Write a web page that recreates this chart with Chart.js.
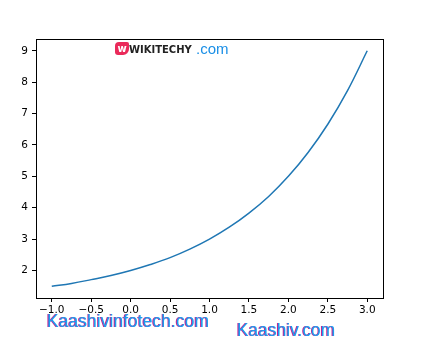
<!DOCTYPE html>
<html>
<head>
<meta charset="utf-8">
<script src="https://cdn.jsdelivr.net/npm/chart.js@4/dist/chart.umd.min.js"></script>
<style>
  html, body { margin: 0; padding: 0; background: #fff; }
  #wrap { position: relative; width: 431px; height: 359px; }
  .mark { position: absolute; white-space: nowrap; transform-origin: 0 0; }
  .kaashiv { font-family: "Liberation Sans", Arial, sans-serif; color: #1a9ef0; text-shadow: -1px 0 #c8208e; }
</style>
</head>
<body>
<div id="wrap">
  <canvas id="chart" width="431" height="359"></canvas>
  <div class="mark" style="left:115px;top:42px;width:14px;height:13px;background:#ea2a5a;border-radius:4px 2px 6px 3px;color:#fff;font:bold 10px 'DejaVu Sans';line-height:13px;text-align:center">w</div>
  <div class="mark" style="left:129px;top:44px;font:bold 10px 'DejaVu Sans';color:#222">WIKITECHY</div>
  <div class="mark" style="left:196px;top:40px;font:15px 'Liberation Sans';color:#1a8fe6">.com</div>
  <div class="mark kaashiv" style="left:47px;top:310px;font-size:19px;transform:scaleX(0.925)">Kaashivinfotech.com</div>
  <div class="mark kaashiv" style="left:237px;top:319px;font-size:19px;transform:scaleX(0.915)">Kaashiv.com</div>
</div>
<script>
// curve
const xValues = [-1, -0.75, -0.5, -0.25, 0, 0.25, 0.5, 0.75, 1, 1.25, 1.5, 1.75, 2, 2.25, 2.5, 2.75, 3];
const yValues = [1.5, 1.59, 1.71, 1.84, 2, 2.19, 2.41, 2.68, 3, 3.38, 3.83, 4.36, 5, 5.76, 6.66, 7.73, 9];
const xTicks = [-1.0, -0.5, 0.0, 0.5, 1.0, 1.5, 2.0, 2.5, 3.0];
const yTicks = [2, 3, 4, 5, 6, 7, 8, 9];

const frame = {
  id: 'frame',
  afterDraw(chart) {
    const { ctx, chartArea: a } = chart;
    ctx.save();
    ctx.strokeStyle = '#000';
    ctx.lineWidth = 1;
    ctx.strokeRect(Math.round(a.left) + 0.5, Math.round(a.top) + 0.5, Math.round(a.right - a.left), Math.round(a.bottom - a.top));
    ctx.restore();
  }
};

const tickFont = { family: 'DejaVu Sans', size: 10.5 };

new Chart(document.getElementById('chart'), {
  type: 'scatter',
  data: {
    datasets: [{
      data: xValues.map((x, i) => ({ x, y: yValues[i] })),
      showLine: true,
      borderColor: '#1f77b4',
      borderWidth: 1.5,
      pointRadius: 0,
      tension: 0.4
    }]
  },
  options: {
    responsive: false,
    animation: false,
    layout: { padding: { left: 0, top: 39, right: 48, bottom: 0 } },
    plugins: { legend: { display: false }, tooltip: { enabled: false } },
    scales: {
      x: {
        type: 'linear', min: -1.2, max: 3.2,
        afterBuildTicks: s => { s.ticks = xTicks.map(v => ({ value: v })); },
        afterFit: s => { s.height = 61; },
        grid: { drawOnChartArea: false, drawTicks: true, tickLength: 4, color: '#000' },
        border: { display: false },
        ticks: { color: '#000', font: tickFont, padding: 2, maxRotation: 0, callback: v => v.toFixed(1).replace('-', '\u2212') }
      },
      y: {
        type: 'linear', min: 1.125, max: 9.375,
        afterBuildTicks: s => { s.ticks = yTicks.map(v => ({ value: v })); },
        afterFit: s => { s.width = 36; },
        grid: { drawOnChartArea: false, drawTicks: true, tickLength: 4, color: '#000' },
        border: { display: false },
        ticks: { color: '#000', font: tickFont, padding: 4 }
      }
    }
  },
  plugins: [frame]
});
</script>
</body>
</html>
